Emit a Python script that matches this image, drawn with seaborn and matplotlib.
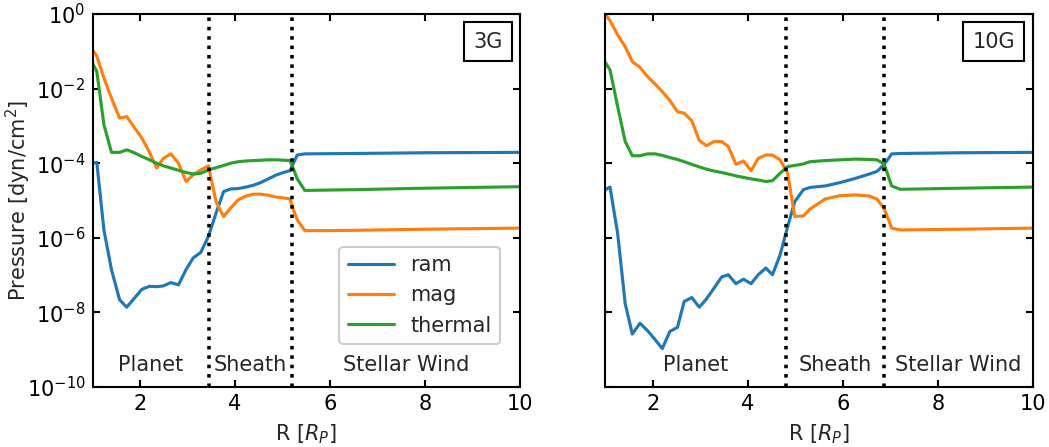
import numpy as np
import pandas as pd
import matplotlib
matplotlib.use("Agg")
import matplotlib.pyplot as plt
from matplotlib.ticker import NullLocator
from matplotlib.offsetbox import AnchoredText
import seaborn as sns

# ---------------- data (log10 of pressure in dyn/cm^2) ----------------
R_3G = [1.00, 1.09, 1.24, 1.40, 1.57, 1.72, 1.88, 2.04, 2.20, 2.35, 2.49, 2.65,
        2.81, 2.97, 3.12, 3.28, 3.44, 3.60, 3.76, 3.91, 4.07, 4.23, 4.39, 4.54,
        4.70, 4.88, 5.02, 5.16, 5.23, 5.31, 5.47, 6.50, 8.00, 10.00]
ram_3G = [-4.00, -3.98, -5.79, -6.86, -7.66, -7.86, -7.62, -7.38, -7.30, -7.31, -7.29, -7.20,
          -7.26, -6.85, -6.54, -6.39, -5.96, -5.34, -4.76, -4.69, -4.68, -4.64, -4.59, -4.52,
          -4.42, -4.31, -4.25, -4.20, -4.00, -3.78, -3.75, -3.74, -3.72, -3.71]
mag_3G = [-0.96, -1.13, -1.72, -2.26, -2.79, -2.75, -3.04, -3.33, -3.71, -4.13, -3.87, -3.75,
          -4.00, -4.49, -4.31, -4.18, -4.07, -5.03, -5.43, -5.20, -4.98, -4.88, -4.83, -4.83,
          -4.86, -4.91, -4.93, -4.96, -5.25, -5.52, -5.81, -5.80, -5.77, -5.74]
thermal_3G = [-1.32, -1.54, -2.97, -3.71, -3.71, -3.64, -3.72, -3.82, -3.91, -4.00, -4.07, -4.13,
              -4.19, -4.25, -4.29, -4.27, -4.18, -4.12, -4.06, -4.00, -3.96, -3.94, -3.93, -3.92,
              -3.91, -3.91, -3.92, -3.93, -4.15, -4.42, -4.73, -4.71, -4.67, -4.63]

R_10G = [1.00, 1.10, 1.26, 1.42, 1.57, 1.73, 1.89, 2.05, 2.20, 2.36, 2.52, 2.66, 2.82,
         2.98, 3.13, 3.29, 3.45, 3.59, 3.75, 3.91, 4.07, 4.22, 4.38, 4.52, 4.68, 4.84,
         4.99, 5.17, 5.31, 5.63, 5.94, 6.26, 6.56, 6.72, 6.87, 7.03, 7.21, 8.50, 10.00]
ram_10G = [-4.71, -4.64, -5.88, -7.77, -8.58, -8.29, -8.49, -8.73, -8.97, -8.51, -8.40, -7.71, -7.60,
           -7.86, -7.64, -7.35, -7.05, -6.99, -7.23, -7.11, -7.23, -6.99, -6.81, -6.99, -6.46, -5.70,
           -5.03, -4.71, -4.65, -4.61, -4.52, -4.41, -4.29, -4.22, -4.04, -3.75, -3.74, -3.72, -3.71]
mag_10G = [0.00, -0.18, -0.56, -0.88, -1.28, -1.43, -1.68, -1.88, -2.08, -2.32, -2.62, -2.66, -2.86,
           -3.39, -3.53, -3.42, -3.42, -3.55, -4.03, -3.94, -4.20, -3.87, -3.78, -3.78, -3.91, -4.27,
           -5.43, -5.41, -5.23, -4.96, -4.87, -4.85, -4.88, -4.96, -5.21, -5.74, -5.79, -5.77, -5.74]
thermal_10G = [-1.30, -1.50, -2.48, -3.42, -3.80, -3.80, -3.75, -3.75, -3.79, -3.85, -3.90, -3.96, -4.03,
               -4.10, -4.16, -4.21, -4.25, -4.29, -4.34, -4.38, -4.42, -4.45, -4.49, -4.47, -4.27, -4.09,
               -4.06, -4.02, -3.96, -3.93, -3.91, -3.89, -3.90, -3.91, -4.02, -4.61, -4.70, -4.67, -4.64]

series_names = ["ram", "mag", "thermal"]
panel_labels = ["3G", "10G"]
boundaries_3G = [3.45, 5.21]
boundaries_10G = [4.81, 6.86]
region_names = ["Planet", "Sheath", "Stellar Wind"]
yticks = [1e-10, 1e-8, 1e-6, 1e-4, 1e-2, 1e0]
xticks = [2, 4, 6, 8, 10]

# ---------------- style ----------------
sns.set_style("ticks")
plt.rcParams.update({
    "font.family": ["DejaVu Sans"],
    "font.size": 10,
    "xtick.direction": "in",
    "ytick.direction": "in",
    "xtick.top": True,
    "ytick.right": True,
    "xtick.major.size": 3.5,
    "ytick.major.size": 3.5,
    "xtick.color": "black",
    "ytick.color": "black",
    "axes.edgecolor": "black",
    "axes.linewidth": 1.0,
    "xtick.labelsize": 10,
    "ytick.labelsize": 10,
    "axes.labelsize": 10,
})
palette = ["#1f77b4", "#ff7f0e", "#2ca02c"]

fig = plt.figure(figsize=(1049 / 150, 447 / 150), dpi=150)
ax1 = fig.add_axes([0.0882, 0.1342, 0.4075, 0.8345])
ax2 = fig.add_axes([0.5770, 0.1342, 0.4075, 0.8345])

panels = [
    (ax1, R_3G, [ram_3G, mag_3G, thermal_3G], boundaries_3G, panel_labels[0], True),
    (ax2, R_10G, [ram_10G, mag_10G, thermal_10G], boundaries_10G, panel_labels[1], False),
]

for ax, R, vals, bnds, plabel, show_legend in panels:
    frames = []
    for name, v in zip(series_names, vals):
        frames.append(pd.DataFrame({"R": R, "P": 10.0 ** np.array(v), "kind": name}))
    df = pd.concat(frames, ignore_index=True)
    sns.lineplot(data=df, x="R", y="P", hue="kind", hue_order=series_names,
                 palette=palette, linewidth=1.5, estimator=None, sort=False,
                 ax=ax, legend=show_legend)
    ax.set_yscale("log")
    ax.set_xlim(1, 10)
    ax.set_ylim(1e-10, 1)
    ax.set_yticks(yticks)
    ax.set_xticks(xticks)
    ax.yaxis.set_minor_locator(NullLocator())
    ax.xaxis.set_minor_locator(NullLocator())
    ax.tick_params(which="major", direction="in", top=True, right=True,
                   length=3.5, width=1.0)
    for b in bnds:
        ax.axvline(b, color="black", linestyle=":", linewidth=1.7)
    edges = [1.0] + bnds + [10.0]
    for i, rn in enumerate(region_names):
        ax.text((edges[i] + edges[i + 1]) / 2, 4e-10, rn, ha="center", va="center",
                fontsize=10)
    at = AnchoredText(plabel, loc="upper right", prop=dict(size=10), pad=0.45,
                      borderpad=0.4, frameon=True)
    at.patch.set_boxstyle("square,pad=0")
    at.patch.set_edgecolor("black")
    at.patch.set_linewidth(1.0)
    ax.add_artist(at)
    ax.set_xlabel("R [$R_P$]")
    for s in ax.spines.values():
        s.set_visible(True)
        s.set_color("black")

ax1.set_ylabel("Pressure [dyn/cm$^2$]")
ax1.yaxis.set_label_coords(-0.14, 0.5)
ax2.set_ylabel("")
ax2.tick_params(labelleft=False)

leg = ax1.legend(loc="lower right", bbox_to_anchor=(0.953, 0.115), borderaxespad=0,
                 frameon=True, fancybox=True, edgecolor="0.8", framealpha=1.0,
                 handlelength=2.2, fontsize=10)
leg.get_frame().set_linewidth(1.0)

fig.savefig("out.png", dpi=150)
